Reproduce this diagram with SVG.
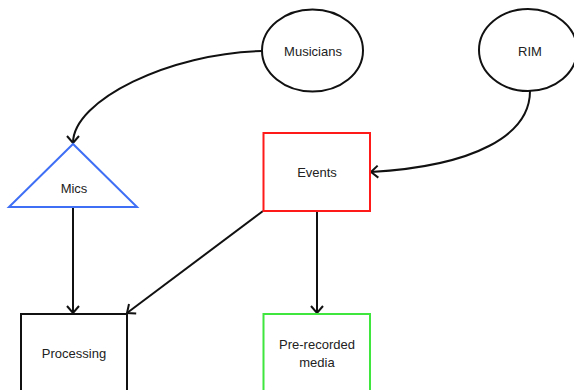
<svg xmlns="http://www.w3.org/2000/svg" width="574" height="390" viewBox="0 0 574 390">
  <style>
    .shape { fill: #ffffff; stroke-width: 2; }
    .label { font-family: "Liberation Sans", Arial, sans-serif; font-size: 13px; fill: #222222; text-anchor: middle; dominant-baseline: central; }
    .edge { fill: none; stroke: #111111; stroke-width: 2; marker-end: url(#arrow); }
  </style>
  <defs>
    <marker id="arrow" markerUnits="userSpaceOnUse" markerWidth="12" markerHeight="14" refX="7" refY="6" orient="auto" overflow="visible">
      <path d="M0,0 L7,6 L0,12" fill="none" stroke="#111111" stroke-width="2"/>
    </marker>
  </defs>
  <rect width="574" height="390" fill="#ffffff"/>

  <g id="connectors">
    <path class="edge" d="M262,51 C170,53 73,100 73,143"/>
    <path class="edge" d="M530,91 C530,135 475,166 371,172"/>
    <path class="edge" d="M73,193 L73,313"/>
    <path class="edge" d="M263,211 L127,313"/>
    <path class="edge" d="M317,211 L317,313"/>
  </g>

  <g id="musicians">
    <ellipse class="shape" cx="312.5" cy="50.5" rx="50.5" ry="41" stroke="#111111"/>
    <text class="label" x="313" y="51">Musicians</text>
  </g>

  <g id="rim">
    <ellipse class="shape" cx="528" cy="50" rx="49" ry="41" stroke="#111111"/>
    <text class="label" x="530" y="51">RIM</text>
  </g>

  <g id="mics">
    <polygon class="shape" points="73,144 9,207 137,207" stroke="#3f6ff5" fill="none"/>
    <text class="label" x="74" y="188">Mics</text>
  </g>

  <g id="events">
    <rect class="shape" x="263.5" y="133" width="106.5" height="78" stroke="#ff1a1a"/>
    <text class="label" x="317" y="172">Events</text>
  </g>

  <g id="processing">
    <rect class="shape" x="21" y="314" width="106" height="80" stroke="#111111"/>
    <text class="label" x="74" y="353">Processing</text>
  </g>

  <g id="prerecorded">
    <rect class="shape" x="263.5" y="314" width="106.5" height="80" stroke="#3ee63e"/>
    <text class="label" x="317" y="344">Pre-recorded</text>
    <text class="label" x="317" y="362">media</text>
  </g>
</svg>
